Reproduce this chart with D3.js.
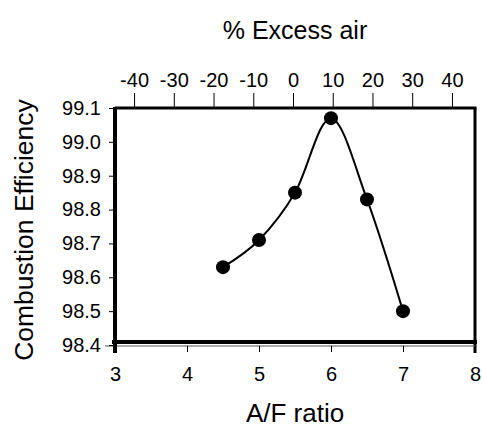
<!DOCTYPE html>
<html>
<head>
<meta charset="utf-8">
<script src="https://cdn.jsdelivr.net/npm/d3@7"></script>
<style>
  body { margin: 0; background: #fff; }
  text { font-family: "Liberation Sans", Arial, sans-serif; fill: #000; }
</style>
</head>
<body>
<svg id="chart"></svg>
<script>
"use strict";

const afRatio = [4.5, 5, 5.5, 6, 6.5, 7];
const efficiency = [98.63, 98.71, 98.85, 99.07, 98.83, 98.50];
const xTicks = [3, 4, 5, 6, 7, 8];
const yTicks = [98.4, 98.5, 98.6, 98.7, 98.8, 98.9, 99.0, 99.1];
const airTicks = [-40, -30, -20, -10, 0, 10, 20, 30, 40];

const width = 482, height = 430;
const plotL = 115, plotR = 475, plotT = 108, plotB = 345;

const chart = d3.select('#chart')
  .attr('width', width)
  .attr('height', height);

const x = d3.scaleLinear().domain([3, 8]).range([plotL, plotR]);
const y = d3.scaleLinear().domain([98.4, 99.1]).range([plotB, plotT]);
// excess air axis sits on top, 0% near A/F 5.47
const xAir = d3.scaleLinear().domain([-44.8, 45.8]).range([plotL, plotR]);

// frame
chart.append('line')
  .attr('x1', plotL).attr('x2', plotR + 1.5)
  .attr('y1', plotT).attr('y2', plotT)
  .attr('stroke', '#000').attr('stroke-width', 3);
chart.append('line')
  .attr('x1', plotR).attr('x2', plotR)
  .attr('y1', plotT).attr('y2', plotB + 8)
  .attr('stroke', '#000').attr('stroke-width', 3);
chart.append('line')
  .attr('x1', plotL - 3).attr('x2', plotR + 2)
  .attr('y1', plotB - 3).attr('y2', plotB - 3)
  .attr('stroke', '#000').attr('stroke-width', 4);
chart.append('line')
  .attr('x1', plotL - 10).attr('x2', plotR + 2)
  .attr('y1', plotB + 1).attr('y2', plotB + 1)
  .attr('stroke', '#555').attr('stroke-width', 1);

// left axis
const yAxis = chart.append('g')
  .attr('transform', `translate(${plotL},0)`)
  .call(d3.axisLeft(y).tickValues(yTicks).tickFormat(d3.format('.1f')).tickSize(6).tickPadding(8));
yAxis.select('.domain').remove();
yAxis.selectAll('text').style('font-size', '20px');
chart.append('line')
  .attr('x1', plotL).attr('x2', plotL)
  .attr('y1', plotT - 1).attr('y2', plotB + 8)
  .attr('stroke', '#000').attr('stroke-width', 4);

// bottom axis
const xAxis = chart.append('g')
  .attr('transform', `translate(0,${plotB + 1})`)
  .call(d3.axisBottom(x).tickValues(xTicks).tickFormat(d => String(d)).tickSize(6).tickPadding(15));
xAxis.select('.domain').remove();
xAxis.selectAll('text').style('font-size', '20px');

// top axis (plain hyphen like the original)
const topAxis = chart.append('g')
  .attr('transform', `translate(0,${plotT})`)
  .call(d3.axisTop(xAir).tickValues(airTicks).tickFormat(d => String(d)).tickSize(15).tickPadding(6));
topAxis.select('.domain').remove();
topAxis.selectAll('text').style('font-size', '20px');

// titles
chart.append('text')
  .attr('x', 295).attr('y', 39)
  .attr('text-anchor', 'middle')
  .style('font-size', '25px')
  .text('% Excess air');
chart.append('text')
  .attr('x', 295).attr('y', 422)
  .attr('text-anchor', 'middle')
  .style('font-size', '26px')
  .text('A/F ratio');
chart.append('text')
  .attr('transform', 'translate(33,230) rotate(-90)')
  .attr('text-anchor', 'middle')
  .style('font-size', '26.5px')
  .text('Combustion Efficiency');

// data
const points = afRatio.map((a, i) => ({ a: a, e: efficiency[i] }));
const line = d3.line()
  .x(d => x(d.a))
  .y(d => y(d.e))
  .curve(d3.curveCatmullRom.alpha(0));

chart.append('path')
  .datum(points)
  .attr('d', line)
  .attr('fill', 'none')
  .attr('stroke', '#000')
  .attr('stroke-width', 2);

chart.selectAll('.dot')
  .data(points)
  .enter()
  .append('circle')
  .attr('class', 'dot')
  .attr('cx', d => x(d.a))
  .attr('cy', d => y(d.e))
  .attr('r', 7)
  .attr('fill', '#000');
</script>
</body>
</html>
